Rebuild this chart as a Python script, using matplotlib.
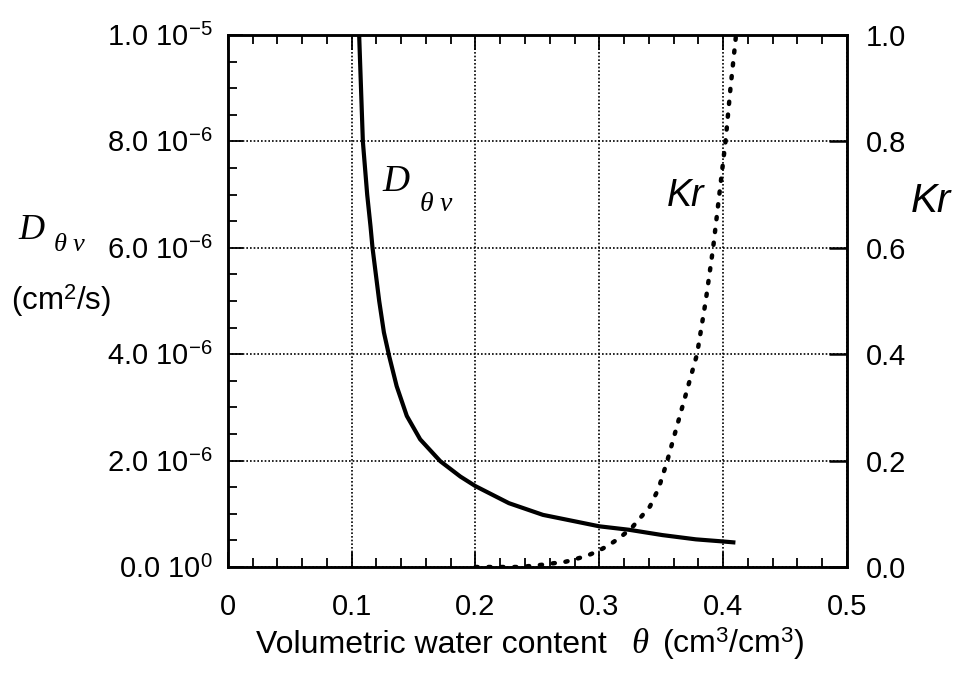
import numpy as np
import matplotlib.pyplot as plt
from matplotlib.ticker import MultipleLocator

plt.rcParams['font.family'] = ['Liberation Sans', 'DejaVu Sans']
plt.rcParams['mathtext.fontset'] = 'custom'
plt.rcParams['mathtext.rm'] = 'Liberation Sans'
plt.rcParams['mathtext.it'] = 'Liberation Serif:italic'
plt.rcParams['mathtext.bf'] = 'Liberation Sans:bold'

# vapour diffusivity D_theta_v (x 1e-6 cm2/s) vs volumetric water content
theta_d = [0.106, 0.109, 0.1125, 0.1152, 0.1168, 0.1222, 0.1260, 0.1303,
           0.1363, 0.1445, 0.1553, 0.1715, 0.1878, 0.200, 0.227, 0.2545,
           0.281, 0.300, 0.324, 0.351, 0.378, 0.400, 0.410]
diff_d = [10.0, 8.0, 7.0, 6.4, 6.0, 5.0, 4.41, 3.96,
          3.40, 2.84, 2.40, 1.99, 1.70, 1.52, 1.20, 0.98,
          0.855, 0.765, 0.70, 0.60, 0.52, 0.48, 0.46]

# relative hydraulic conductivity Kr
theta_k = [0.20, 0.236, 0.253, 0.273, 0.281, 0.290, 0.299, 0.307, 0.316,
           0.326, 0.333, 0.341, 0.348, 0.355, 0.367, 0.379, 0.386, 0.392,
           0.397, 0.402, 0.406, 0.4105]
kr = [0.0, 0.0, 0.004, 0.010, 0.015, 0.021, 0.030, 0.040, 0.054,
      0.073, 0.092, 0.114, 0.148, 0.20, 0.30, 0.40, 0.50, 0.60,
      0.70, 0.80, 0.90, 1.0]

x_ticks = [0, 0.1, 0.2, 0.3, 0.4, 0.5]
x_labels = ['0', '0.1', '0.2', '0.3', '0.4', '0.5']
d_ticks = [0, 2e-6, 4e-6, 6e-6, 8e-6, 1e-5]
d_labels = ['0.0 10$^{0}$', '2.0 10$^{-6}$', '4.0 10$^{-6}$',
            '6.0 10$^{-6}$', '8.0 10$^{-6}$', '1.0 10$^{-5}$']
kr_ticks = [0, 0.2, 0.4, 0.6, 0.8, 1.0]
kr_labels = ['0.0', '0.2', '0.4', '0.6', '0.8', '1.0']

fig = plt.figure(figsize=(9.55, 6.75), dpi=100)
ax = fig.add_axes([0.2387, 0.16, 0.648, 0.788])
ax2 = ax.twinx()

ax.plot(theta_d, np.array(diff_d) * 1e-6, color='black', lw=3.0,
        solid_capstyle='butt', solid_joinstyle='round', zorder=3)
ax2.plot(theta_k, kr, color='black', lw=3.2, linestyle=(0, (0.5, 2.4)),
         dash_capstyle='round', zorder=3)

ax.set_xlim(0, 0.5)
ax.set_ylim(0, 1e-5)
ax2.set_ylim(0, 1.0)

ax.set_xticks(x_ticks)
ax.set_xticklabels(x_labels)
ax.xaxis.set_minor_locator(MultipleLocator(0.02))
ax.set_yticks(d_ticks)
ax.set_yticklabels(d_labels)
ax.yaxis.set_minor_locator(MultipleLocator(5e-7))
ax2.set_yticks(kr_ticks)
ax2.set_yticklabels(kr_labels)

ax.grid(True, which='major', color='black', lw=1.2, linestyle=(0, (1, 1.2)))
ax.tick_params(which='both', direction='in', top=True, right=False,
               labelsize=21, width=1.3)
ax.tick_params(which='major', length=11)
ax.tick_params(which='minor', length=6.5)
ax.tick_params(axis='x', pad=19)
ax.tick_params(axis='y', pad=11)
ax2.tick_params(which='major', direction='in', length=13, width=1.8,
                labelsize=21, pad=14)

for a in (ax, ax2):
    for s in a.spines.values():
        s.set_linewidth(1.8)

# curve labels inside the plot
ax.text(0.136, 7.25e-6, 'D', fontsize=27, family='Liberation Serif',
        style='italic', ha='center', va='center')
ax.text(0.168, 6.82e-6, r'$\theta\ v$', fontsize=20, ha='center', va='center')
ax.text(0.37, 6.98e-6, 'Kr', fontsize=27, style='italic',
        ha='center', va='center')

# axis titles
fig.text(0.033, 0.659, 'D', fontsize=26, family='Liberation Serif',
         style='italic', ha='center', va='center')
fig.text(0.073, 0.638, r'$\theta\ v$', fontsize=19, ha='center', va='center')
fig.text(0.064, 0.554, '(cm$^2$/s)', fontsize=22.5, ha='center', va='center')
fig.text(0.975, 0.702, 'Kr', fontsize=29, style='italic',
         ha='center', va='center')

base_y = 1 - 653 / 675
fig.text(607 / 955, base_y, 'Volumetric water content', fontsize=23,
         ha='right', va='baseline')
fig.text(640 / 955, base_y, 'θ', fontsize=25, family='Liberation Serif',
         style='italic', ha='center', va='baseline')
fig.text(662 / 955, base_y, '(cm$^3$/cm$^3$)', fontsize=23,
         ha='left', va='baseline')

fig.savefig('out.png', dpi=100)
